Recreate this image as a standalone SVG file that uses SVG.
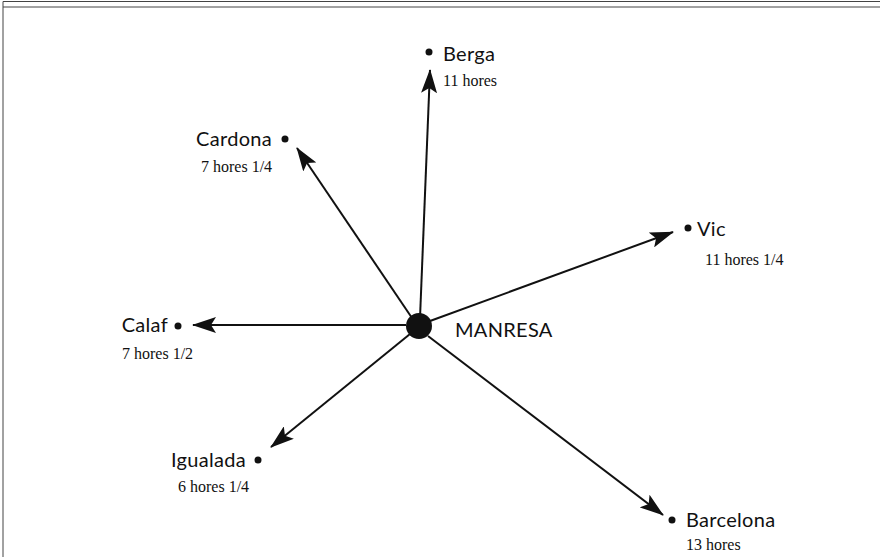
<svg xmlns="http://www.w3.org/2000/svg" width="880" height="557" viewBox="0 0 880 557">
<style>
.name{font-family:"Lato","Noto Sans",sans-serif;font-size:20px;letter-spacing:0.3px;fill:#111}
.hrs{font-family:"Liberation Serif",serif;font-size:16px;fill:#111}
.dot{fill:#111}
.edge{stroke:#111;stroke-width:2;fill:none;marker-end:url(#ah)}
.frame{stroke:#444;stroke-width:1;fill:none}
</style>
<defs>
<marker id="ah" markerUnits="userSpaceOnUse" markerWidth="24" markerHeight="16" viewBox="0 0 24 16" refX="23" refY="8" orient="auto">
<path d="M0,0 L24,8 L0,16 L5,8 Z" fill="#111"/>
</marker>
</defs>
<rect width="880" height="557" fill="#fff"/>
<g id="frame">
<line class="frame" x1="3" y1="1.5" x2="880" y2="1.5"/>
<line class="frame" x1="3" y1="7" x2="880" y2="7"/>
<line class="frame" x1="3" y1="1.5" x2="3" y2="557"/>
</g>
<g id="connectors">
<line class="edge" x1="420" y1="318" x2="430" y2="70"/>
<line class="edge" x1="412" y1="318" x2="297" y2="148"/>
<line class="edge" x1="430" y1="321" x2="673" y2="232"/>
<line class="edge" x1="406" y1="325" x2="193" y2="325"/>
<line class="edge" x1="410" y1="334" x2="271" y2="447"/>
<line class="edge" x1="428" y1="336" x2="663" y2="515"/>
</g>
<g id="manresa">
<circle class="dot" cx="419" cy="326" r="13"/>
<text class="name" x="455" y="337" letter-spacing="1">MANRESA</text>
</g>
<g id="berga">
<circle class="dot" cx="429" cy="52" r="3.5"/>
<text class="name" x="443" y="61">Berga</text>
<text class="hrs" x="443" y="86">11 hores</text>
</g>
<g id="cardona">
<circle class="dot" cx="285" cy="139" r="3.5"/>
<text class="name" x="272" y="146" text-anchor="end">Cardona</text>
<text class="hrs" x="201" y="172">7 hores 1/4</text>
</g>
<g id="vic">
<circle class="dot" cx="688" cy="228" r="3.5"/>
<text class="name" x="697" y="236">Vic</text>
<text class="hrs" x="705" y="265">11 hores 1/4</text>
</g>
<g id="calaf">
<circle class="dot" cx="178" cy="326" r="3.5"/>
<text class="name" x="168" y="332" text-anchor="end">Calaf</text>
<text class="hrs" x="122" y="359">7 hores 1/2</text>
</g>
<g id="igualada">
<circle class="dot" cx="258" cy="460" r="3.5"/>
<text class="name" x="246" y="467" text-anchor="end">Igualada</text>
<text class="hrs" x="178" y="492">6 hores 1/4</text>
</g>
<g id="barcelona">
<circle class="dot" cx="672" cy="520" r="3.5"/>
<text class="name" x="686" y="527">Barcelona</text>
<text class="hrs" x="686" y="550">13 hores</text>
</g>
</svg>
